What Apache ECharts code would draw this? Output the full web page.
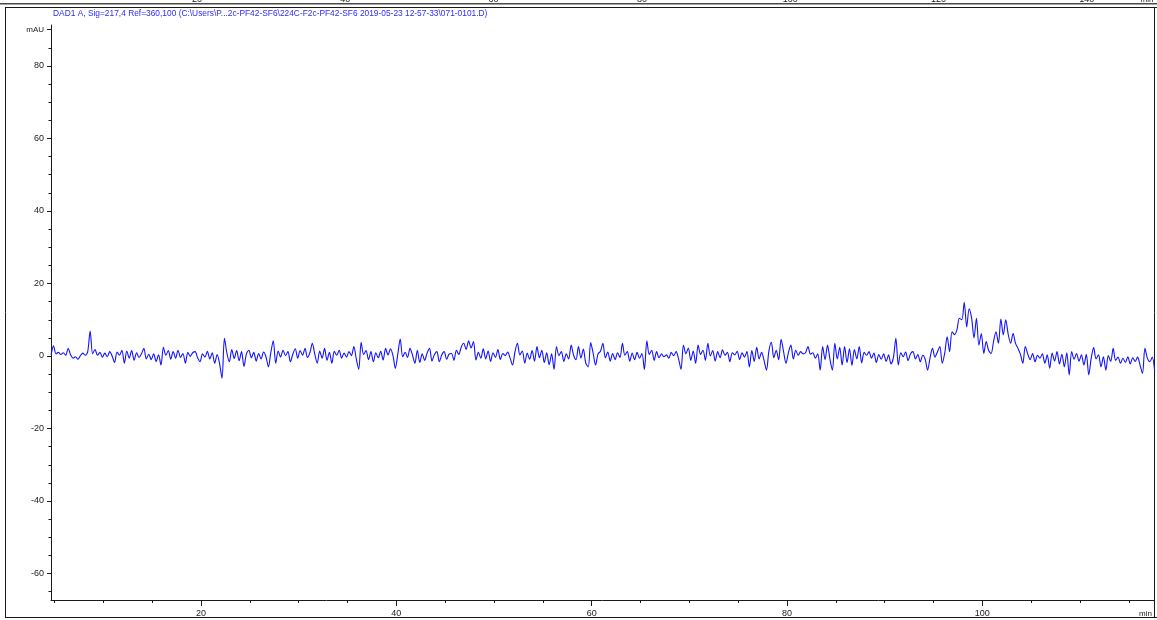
<!DOCTYPE html>
<html>
<head>
<meta charset="utf-8">
<script src="https://cdn.jsdelivr.net/npm/echarts@6/dist/echarts.min.js"></script>
<style>
  html, body { margin: 0; padding: 0; background: #ffffff; }
  #chart { width: 1157px; height: 620px; }
</style>
</head>
<body>
<div id="chart"></div>
<script>
// Detector trace header
const signalTitle = 'DAD1 A, Sig=217,4 Ref=360,100 (C:\\Users\\P...2c-PF42-SF6\\224C-F2c-PF42-SF6 2019-05-23 12-57-33\\071-0101.D)';

// Sampling of the trace (minutes)
const sampleStart = 4.65;
const sampleStep = 0.25;

// Absorbance in mAU, one value per sample, 20 samples (5 min) per row
const absorbance = [
  0.3, 2.8, 0.6, 1.0, 0.4, 0.9, 0.2, 2.1, 0.3, -0.6, -0.2, -0.9, 0.1, 0.8, 0.2, 1.2, 6.9, 0.6, 1.8, 0.2,
  1.0, -0.3, 0.8, -0.2, 1.2, 0.0, -1.8, 1.1, 0.2, 1.6, -2.0, 1.4, -0.6, 1.5, -1.2, 0.9, -0.4, 0.6, 2.1, -0.8,
  0.5, -1.0, 0.6, -1.5, 0.3, -2.5, 2.4, 0.2, 1.5, -0.9, 1.2, -0.6, 1.6, -0.4, 0.7, -2.0, 1.0, -0.1, 0.9, 1.2,
  -0.5, -1.6, 0.6, -0.3, 1.3, -0.8, 0.9, -2.0, 0.4, -2.1, -6.1, 4.9, 0.8, -1.6, 1.8, -0.7, 1.5, -1.3, 1.2, -2.9,
  0.6, 1.6, -0.5, 1.0, -1.4, 0.7, -0.8, 1.1, -0.2, -3.0, 1.0, 4.2, -2.0, 1.4, -0.3, 1.6, 0.1, 1.2, -1.6, 0.5,
  2.0, -0.6, 1.5, 0.2, 2.1, -0.4, 0.9, 3.5, 0.5, -2.0, 1.4, -0.6, 2.1, -1.2, 1.0, -2.0, 1.3, 0.2, 1.6, -0.6,
  0.8, -0.3, 1.2, 0.1, 2.6, -0.8, -3.7, 3.8, 0.4, 1.5, -1.0, 1.2, -1.6, 0.9, -0.5, 1.3, -1.1, 2.1, 0.3, 2.0,
  0.2, -3.4, 0.5, 4.7, -0.2, 1.0, -0.4, 2.1, 0.3, -2.0, 1.6, -1.8, 0.6, -1.2, 0.8, 2.1, -1.4, 0.4, 1.2, -1.6,
  0.3, 1.2, -0.9, 0.5, 0.7, -1.2, 1.6, 0.4, 2.5, 3.5, 1.8, 4.2, 2.2, 4.0, -1.1, 1.0, -0.6, 2.0, -0.8, 1.4,
  -1.5, 0.9, -0.4, 1.8, -1.0, 0.7, 0.1, 1.1, -0.6, -2.5, 1.2, 3.5, 0.3, 1.4, -2.0, 0.8, -0.9, 1.5, -1.4, 2.6,
  -0.5, 1.6, -1.8, 0.9, -2.4, 0.6, -3.7, 2.6, 0.1, 1.2, -1.5, 0.6, -0.8, 3.0, 0.2, -1.0, 2.6, -0.6, 1.9, -2.0,
  -3.0, 3.7, 0.8, -2.5, 0.6, 1.3, 3.5, -0.5, 1.1, -1.4, 0.7, -1.0, 0.9, -0.4, 3.5, 0.2, 1.2, -1.4, 0.8, -1.0,
  1.0, -0.6, 0.7, -3.7, 4.2, 0.4, 1.6, -1.2, 1.2, -0.5, 0.6, -0.2, 0.3, -0.6, 1.0, 0.1, 1.2, -0.8, -3.7, 3.0,
  0.6, 2.2, -1.2, 1.4, -2.0, 3.0, 0.4, 1.6, -1.2, 3.5, 0.0, 1.5, -1.4, 1.2, -0.5, 1.7, 0.2, 1.0, -1.6, 0.9,
  0.3, 1.3, -1.0, 0.9, -0.3, 1.2, -3.0, 1.5, -1.5, 2.4, -0.8, 1.0, -1.2, -3.9, 1.4, 3.8, -0.5, 1.6, -1.0, 4.6,
  1.2, -2.0, 1.0, 3.0, -0.8, 1.6, 0.2, 1.2, 0.6, 0.9, 2.6, 0.5, 0.9, -0.6, 0.6, -3.9, 2.6, -1.0, 3.0, -0.9,
  -3.9, 3.5, -0.8, 2.4, -2.5, 2.6, -1.8, 2.0, -2.6, 1.8, -0.8, 2.6, -1.9, 1.0, 0.2, 1.2, -0.6, 0.8, -1.8, 0.4,
  -0.9, 0.6, -1.5, 0.3, -2.2, -0.4, 4.9, -2.5, 0.9, -0.2, 1.1, -1.3, 0.6, 1.2, -0.8, 0.4, -1.6, 0.2, -0.9, -3.9,
  -0.5, 2.1, -0.3, 1.1, 2.6, -2.0, 0.8, 5.3, 1.2, 6.7, 5.9, 7.2, 10.4, 10.0, 14.8, 8.0, 13.0, 10.5, 5.0, 10.4,
  3.0, 6.2, 0.7, 4.0, 1.5, 0.7, 4.0, 6.7, 3.5, 10.2, 5.8, 10.0, 6.0, 3.5, 6.2, 3.5, 2.1, 0.5, -2.0, 2.6,
  0.6, -1.0, 0.7, -1.6, 0.2, -0.6, 0.6, -2.0, 0.3, -3.4, 0.8, -1.4, 1.2, -2.2, 0.5, -3.0, 0.9, -5.2, 1.2, -0.9,
  0.7, -1.4, 0.3, -2.5, 0.5, -5.2, -0.6, 2.3, -0.8, 0.3, -3.0, -0.2, -3.9, 0.1, -1.5, 2.1, -1.2, -0.3, -2.0, -0.6,
  -1.8, -0.2, -2.2, -0.5, -1.5, -0.3, -2.5, -4.8, 2.1, -0.6, -1.6, -0.3, -4.2
];

// Axis ticks and labels
const timeLabels = [20, 40, 60, 80, 100];
const timeMinorTicks = [5, 10, 15, 20, 25, 30, 35, 40, 45, 50, 55, 60, 65, 70, 75, 80, 85, 90, 95, 100, 105, 110, 115];
const mauLabels = [-60, -40, -20, 0, 20, 40, 60, 80, 90];
const mauMinorTicks = [-65, -55, -50, -45, -35, -30, -25, -15, -10, -5, 5, 10, 15, 25, 30, 35, 45, 50, 55, 65, 70, 75, 85];

// Time axis of the neighbouring panel, cut at the top edge
const headerTickLabels = ['20', '40', '60', '80', '100', '120', '140'];

const FONT = '"Liberation Sans", Arial, sans-serif';
const INK = '#1a1a1a';
const TRACE = '#1212ff';

const points = absorbance.map((v, i) => [sampleStart + i * sampleStep, v]);

const chart = echarts.init(document.getElementById('chart'), null, { renderer: 'canvas' });

const xRange = { min: 4.64, max: 117.58 };
const yRange = { min: -67.31, max: 91.31 };

const headerGraphics = headerTickLabels.map((t, i) => ({
  type: 'text',
  x: 197 + i * 148.3,
  y: 4.2,
  z: 1,
  style: { text: t, font: '9px ' + FONT, fill: INK, textAlign: 'center', textVerticalAlign: 'bottom' }
}));

chart.setOption({
  animation: false,
  backgroundColor: '#ffffff',
  textStyle: { fontFamily: FONT },
  grid: { left: 51, right: 3, top: 25, bottom: 20, containLabel: false },
  xAxis: [
    {
      type: 'value', min: xRange.min, max: xRange.max, position: 'bottom',
      axisLine: { show: true, onZero: false, lineStyle: { color: INK, width: 1 } },
      axisTick: { show: true, customValues: timeMinorTicks, length: 3, lineStyle: { color: INK } },
      axisLabel: { show: true, customValues: timeLabels, margin: 9, fontSize: 9, color: INK, fontFamily: FONT },
      splitLine: { show: false }
    },
    {
      type: 'value', min: xRange.min, max: xRange.max, position: 'bottom',
      axisLine: { show: false, onZero: false },
      axisTick: { show: true, customValues: timeLabels, length: 6, lineStyle: { color: INK } },
      axisLabel: { show: false },
      splitLine: { show: false }
    }
  ],
  yAxis: [
    {
      type: 'value', min: yRange.min, max: yRange.max, position: 'left',
      axisLine: { show: true, onZero: false, lineStyle: { color: INK, width: 1 } },
      axisTick: { show: true, customValues: mauLabels, length: 4, lineStyle: { color: INK } },
      axisLabel: {
        show: true, customValues: mauLabels, margin: 7, fontSize: 9, color: INK, fontFamily: FONT,
        formatter: v => (v === 90 ? '{u|mAU}' : String(v)),
        rich: { u: { fontSize: 8, fontFamily: FONT, color: INK } }
      },
      splitLine: { show: false }
    },
    {
      type: 'value', min: yRange.min, max: yRange.max, position: 'left',
      axisLine: { show: false, onZero: false },
      axisTick: { show: true, customValues: mauMinorTicks, length: 2.5, lineStyle: { color: INK } },
      axisLabel: { show: false },
      splitLine: { show: false }
    }
  ],
  series: [
    {
      type: 'line',
      xAxisIndex: 0,
      yAxisIndex: 0,
      data: points,
      showSymbol: false,
      symbol: 'none',
      smooth: 0.3,
      clip: true,
      lineStyle: { color: TRACE, width: 1.1 },
      emphasis: { disabled: true }
    }
  ],
  graphic: [
    // frame of the panel
    { type: 'line', shape: { x1: 5.5, y1: 7, x2: 5.5, y2: 618 }, style: { stroke: INK, lineWidth: 1 } },
    { type: 'line', shape: { x1: 5, y1: 7.5, x2: 1157, y2: 7.5 }, style: { stroke: INK, lineWidth: 1 } },
    { type: 'line', shape: { x1: 5, y1: 617.5, x2: 1157, y2: 617.5 }, style: { stroke: INK, lineWidth: 1 } },
    { type: 'line', shape: { x1: 1154.5, y1: 7, x2: 1154.5, y2: 618 }, style: { stroke: INK, lineWidth: 1 } },
    // bottom edge of the panel above
    ...headerGraphics,
    {
      type: 'text', x: 1147, y: 4.2, z: 1,
      style: { text: 'min', font: '8px ' + FONT, fill: INK, textAlign: 'center', textVerticalAlign: 'bottom' }
    },
    { type: 'line', z: 2, shape: { x1: 0, y1: 3.8, x2: 1157, y2: 3.8 }, style: { stroke: '#4a4a4a', lineWidth: 1.6 } },
    // signal description
    {
      type: 'text', x: 53, y: 9, scaleX: 0.93,
      style: { text: signalTitle, font: '9px ' + FONT, fill: '#2b2bff', textAlign: 'left', textVerticalAlign: 'top' }
    },
    // unit of the time axis
    {
      type: 'text', x: 1152, y: 614,
      style: { text: 'min', font: '8px ' + FONT, fill: INK, textAlign: 'right', textVerticalAlign: 'middle' }
    }
  ]
});
</script>
</body>
</html>
